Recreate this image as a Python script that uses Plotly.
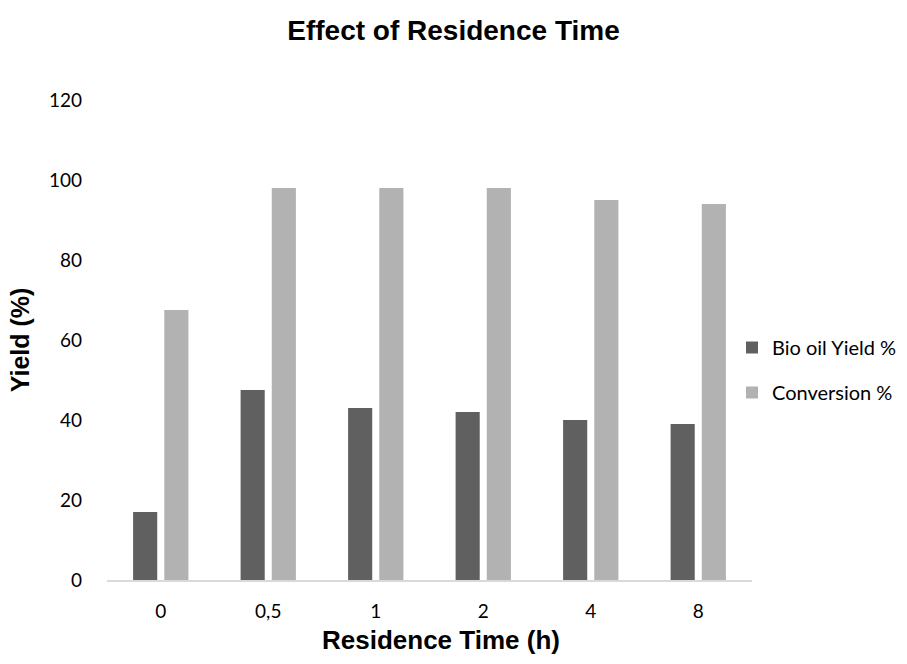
import plotly.graph_objects as go

categories = ["0", "0,5", "1", "2", "4", "8"]
bio_oil_yield = [17, 47.5, 43, 42, 40, 39]
conversion = [67.5, 98, 98, 98, 95, 94]

DARK = "#606060"
LIGHT = "#b2b2b2"
TICKFONT = dict(family="Lato, Open Sans, sans-serif", size=19, color="#000000")
BOLDFONT = "Liberation Sans, Arial, sans-serif"

fig = go.Figure()
fig.add_trace(go.Bar(x=categories, y=bio_oil_yield, name="Bio oil Yield %",
                     marker=dict(color=DARK, line=dict(width=0)), legendgroup="a"))
fig.add_trace(go.Bar(x=categories, y=conversion, name="Conversion %",
                     marker=dict(color=LIGHT, line=dict(width=0)), legendgroup="b"))

fig.update_layout(
    width=907, height=664,
    margin=dict(l=107, r=155, t=100, b=84, autoexpand=False),
    paper_bgcolor="white", plot_bgcolor="white",
    barmode="group", bargap=0.42, bargroupgap=0.226,
    title=dict(text="<b>Effect of Residence Time</b>", x=0.5, xref="container",
               xanchor="center", y=0.955, yanchor="middle",
               font=dict(family=BOLDFONT, size=28, color="#000000")),
    xaxis=dict(showline=True, linecolor="#d9d9d9", linewidth=1.5, ticks="",
               tickfont=TICKFONT, showgrid=False, ticklabelstandoff=13),
    yaxis=dict(range=[0, 120], dtick=20, showline=False, showgrid=False, ticks="",
               tickfont=TICKFONT, zeroline=False, ticklabelstandoff=24,
               title=dict(text="<b>Yield (%)</b>", standoff=12,
                          font=dict(family=BOLDFONT, size=25, color="#000000"))),
    legend=dict(x=0.969, y=0.4375, xanchor="left", yanchor="middle",
                font=dict(family="Lato, Open Sans, sans-serif", size=20, color="#000000"),
                tracegroupgap=16, bgcolor="rgba(0,0,0,0)"),
    showlegend=True,
    annotations=[dict(text="<b>Residence Time (h)</b>", xref="paper", yref="paper",
                      x=0.518, y=-0.125, xanchor="center", yanchor="middle",
                      showarrow=False,
                      font=dict(family=BOLDFONT, size=26, color="#000000"))],
)

fig.write_html("out.html")
